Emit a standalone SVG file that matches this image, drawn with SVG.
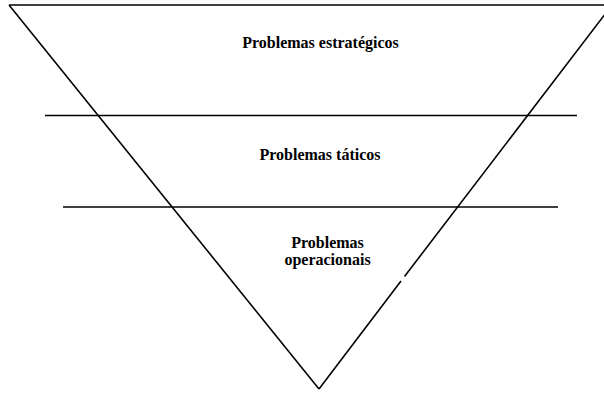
<svg xmlns="http://www.w3.org/2000/svg" width="604" height="393" viewBox="0 0 604 393">
<style>
.ln{stroke:#000;stroke-width:1.6;fill:none}
.t{font-family:"Liberation Serif","Times New Roman",serif;font-weight:bold;font-size:16px;text-anchor:middle;fill:#000}
</style>
<rect width="604" height="393" fill="#fff"/>
<g id="connectors">
<path class="ln" d="M9,5 L612,5"/>
<path class="ln" d="M9,5 L319,389"/>
<path class="ln" d="M319,389 L401,281 M404.5,276.5 L612,5"/>
<path class="ln" d="M45,115.5 L577,115.5"/>
<path class="ln" d="M63,207 L558,207"/>
</g>
<g id="estrategicos"><text class="t" x="320.5" y="47.5">Problemas estratégicos</text></g>
<g id="taticos"><text class="t" x="320" y="160">Problemas táticos</text></g>
<g id="operacionais"><text class="t" x="327.5" y="248">Problemas</text><text class="t" x="327.5" y="265">operacionais</text></g>
</svg>
